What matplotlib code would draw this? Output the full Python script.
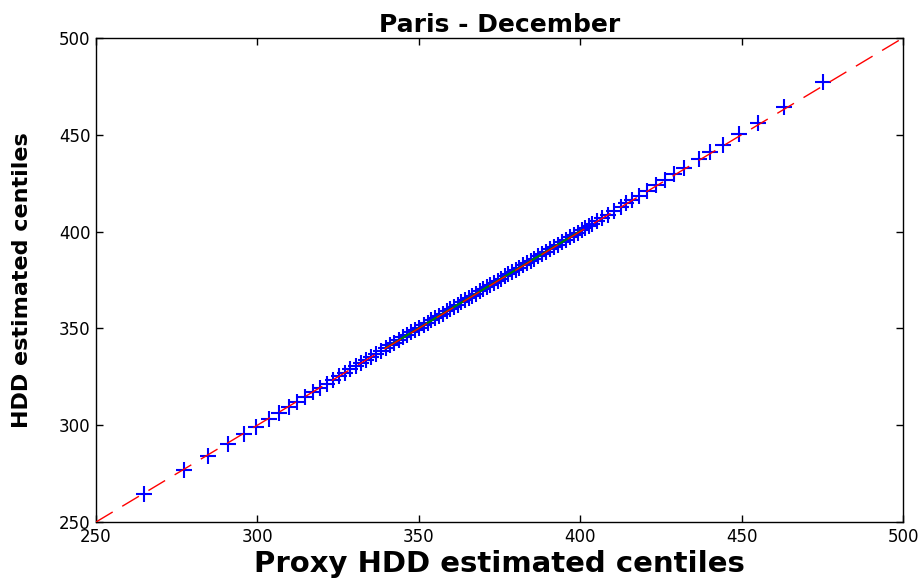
import matplotlib
matplotlib.use("Agg")
import matplotlib.pyplot as plt

# Estimated centiles (1..99)
proxy_centiles = [
    265.0, 277.4, 284.6, 291.0, 295.8, 299.6, 303.6, 306.8, 309.7, 312.3,
    314.8, 317.1, 319.3, 321.4, 323.4, 325.3, 327.1, 328.8, 330.5, 332.1,
    333.7, 335.3, 336.7, 338.2, 339.7, 341.1, 342.4, 343.8, 345.1, 346.4,
    347.7, 348.9, 350.2, 351.5, 352.7, 353.9, 355.1, 356.3, 357.4, 358.6,
    359.7, 360.9, 362.1, 363.2, 364.3, 365.5, 366.6, 367.7, 368.9, 370.0,
    371.1, 372.2, 373.3, 374.4, 375.5, 376.6, 377.7, 378.9, 380.0, 381.1,
    382.3, 383.4, 384.6, 385.8, 387.0, 388.2, 389.4, 390.6, 391.9, 393.1,
    394.4, 395.6, 396.8, 398.0, 399.2, 400.4, 401.6, 402.6, 403.8, 405.2,
    406.8, 408.5, 410.6, 412.7, 414.2, 416.0, 418.3, 420.6, 423.5, 426.4,
    429.2, 432.2, 436.7, 440.2, 444.1, 449.3, 455.1, 463.1, 475.2,
]
hdd_centiles = [
    264.3, 276.6, 284.2, 290.5, 295.6, 299.3, 303.4, 306.5, 309.5, 312.0,
    314.6, 316.9, 319.1, 321.3, 323.3, 325.2, 327.0, 328.8, 330.5, 332.1,
    333.8, 335.4, 336.8, 338.3, 339.8, 341.3, 342.6, 344.0, 345.3, 346.6,
    347.9, 349.1, 350.4, 351.7, 352.9, 354.1, 355.3, 356.5, 357.6, 358.8,
    359.9, 361.1, 362.3, 363.4, 364.5, 365.7, 366.8, 367.9, 369.1, 370.2,
    371.3, 372.4, 373.5, 374.6, 375.7, 376.8, 377.9, 379.1, 380.2, 381.3,
    382.5, 383.6, 384.8, 386.0, 387.2, 388.4, 389.6, 390.8, 392.1, 393.3,
    394.6, 395.8, 397.0, 398.2, 399.4, 400.6, 401.8, 402.8, 404.0, 405.4,
    407.0, 408.7, 410.8, 412.9, 414.5, 416.3, 418.6, 420.9, 423.9, 426.8,
    429.7, 432.8, 437.3, 440.9, 444.9, 450.2, 456.2, 464.4, 477.1,
]

# Reference line (dashed, full range) and quartile segment (solid green)
ref_line_x = [250, 500]
ref_line_y = [250, 500]
quartile_x = [339.7, 400.4]
quartile_y = [339.8, 400.6]

ticks = [250, 300, 350, 400, 450, 500]

fig = plt.figure(figsize=(9.18, 5.84), dpi=100)
ax = fig.add_axes([0.1046, 0.1062, 0.8791, 0.8289])

ax.plot(proxy_centiles, hdd_centiles, linestyle="none", marker="+",
        markersize=12, markeredgewidth=1.5, color="#0000ff", zorder=2)
ax.plot(quartile_x, quartile_y, color="#008000", linewidth=1.5, zorder=3)
ax.plot(ref_line_x, ref_line_y, color="#ff0000", linewidth=1.0,
        dashes=(14, 8), zorder=4)

ax.set_xlim(250, 500)
ax.set_ylim(250, 500)
ax.set_xticks(ticks)
ax.set_yticks(ticks)
ax.tick_params(direction="in", length=5, width=1, top=True, right=True,
               labelsize=12, pad=4)
for s in ax.spines.values():
    s.set_linewidth(1.0)
    s.set_color("black")

ax.set_title("Paris - December", fontsize=18, fontweight="bold", pad=4)
ax.set_xlabel("Proxy HDD estimated centiles", fontsize=21, fontweight="bold",
              labelpad=3)
ax.set_ylabel("HDD estimated centiles", fontsize=16, fontweight="bold")
ax.yaxis.set_label_coords(-0.079, 0.5)

fig.savefig("out.png", dpi=100)
